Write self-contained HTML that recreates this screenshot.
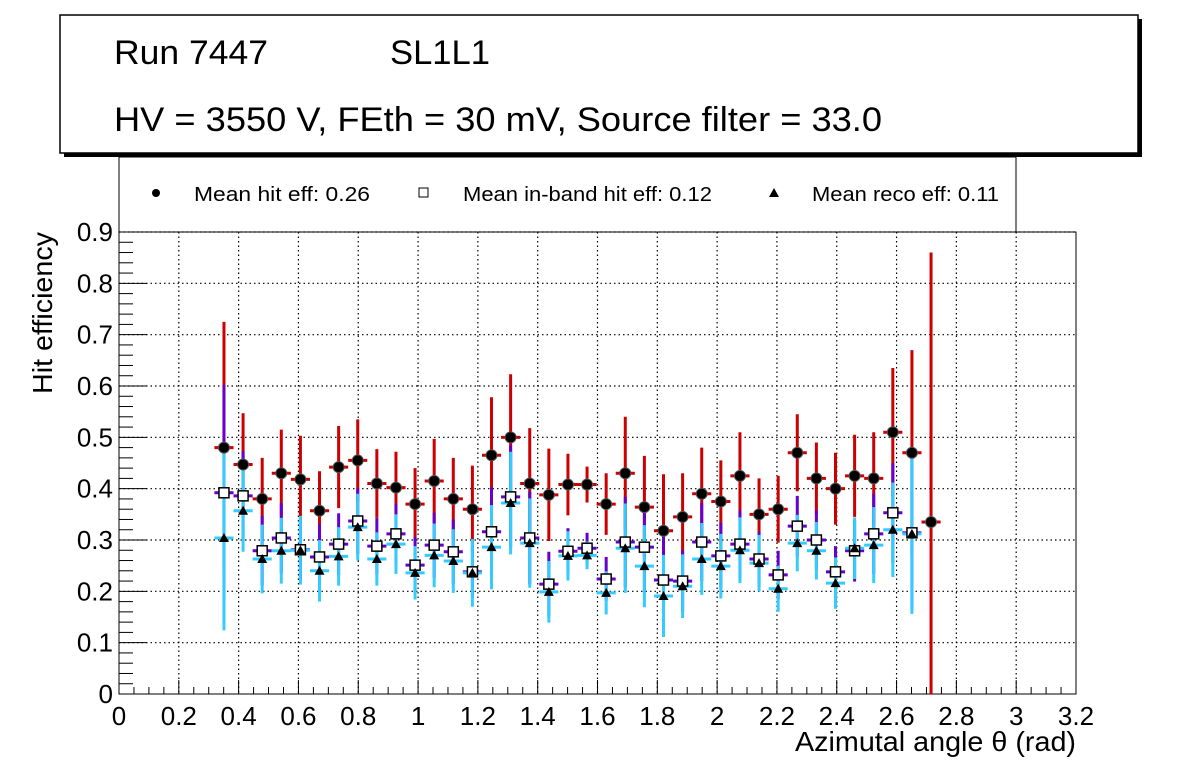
<!DOCTYPE html>
<html><head><meta charset="utf-8"><style>
html,body{margin:0;padding:0;background:#fff;}
svg{display:block;font-family:"Liberation Sans",sans-serif;}
</style></head><body>
<svg id="chart" width="1196" height="772" viewBox="0 0 1196 772" xmlns="http://www.w3.org/2000/svg">
<rect x="0" y="0" width="1196" height="772" fill="#fff"/>
<g>
<rect x="64" y="19" width="1078" height="138" fill="#000"/>
<rect x="60" y="15" width="1078" height="138" fill="#fff" stroke="#000" stroke-width="1.5"/>
<text x="114" y="64" font-size="34" textLength="154" lengthAdjust="spacingAndGlyphs">Run 7447</text>
<text x="390" y="64" font-size="34" textLength="100" lengthAdjust="spacingAndGlyphs">SL1L1</text>
<text x="114" y="131" font-size="34" textLength="768" lengthAdjust="spacingAndGlyphs">HV = 3550 V, FEth = 30 mV, Source filter = 33.0</text>
</g>
<g>
<rect x="119" y="157" width="897" height="75" fill="#fff" stroke="#000" stroke-width="1"/>
<g><circle cx="156" cy="193" r="4" fill="#000"/><text x="194" y="201" font-size="20" textLength="176" lengthAdjust="spacingAndGlyphs">Mean hit  eff: 0.26</text></g>
<g><rect x="419" y="188" width="9" height="9" fill="#fff" stroke="#000"/><text x="463" y="201" font-size="20" textLength="249" lengthAdjust="spacingAndGlyphs">Mean in-band hit eff: 0.12</text></g>
<g><polygon points="774,188 779,197 769,197" fill="#000"/><text x="812" y="201" font-size="20" textLength="187" lengthAdjust="spacingAndGlyphs">Mean reco eff: 0.11</text></g>
</g>
<g id="plot"></g>
<text transform="translate(52,394) rotate(-90)" font-size="28" textLength="162" lengthAdjust="spacingAndGlyphs">Hit efficiency</text>
<text x="795" y="751" font-size="28" textLength="281" lengthAdjust="spacingAndGlyphs">Azimutal angle θ (rad)</text>
</svg>
<script>
const hitVals=[0.48,0.447,0.38,0.43,0.418,0.357,0.442,0.455,0.41,0.402,0.37,0.415,0.38,0.36,0.465,0.5,0.41,0.388,0.408,0.408,0.37,0.43,0.364,0.318,0.345,0.39,0.375,0.425,0.35,0.36,0.47,0.42,0.40,0.425,0.42,0.51,0.47,0.335];
const hitErrs=[0.245,0.1,0.08,0.085,0.085,0.077,0.08,0.08,0.067,0.07,0.07,0.082,0.08,0.085,0.113,0.123,0.108,0.09,0.06,0.035,0.06,0.11,0.1,0.11,0.085,0.09,0.08,0.085,0.07,0.065,0.075,0.07,0.07,0.08,0.09,0.125,0.2,0.525];
const bandVals=[0.392,0.386,0.279,0.304,0.281,0.267,0.292,0.337,0.288,0.312,0.251,0.29,0.277,0.238,0.316,0.384,0.304,0.214,0.278,0.284,0.224,0.296,0.286,0.222,0.22,0.296,0.269,0.292,0.263,0.232,0.327,0.3,0.238,0.279,0.312,0.353,0.314];
const bandErrs=[0.21,0.087,0.068,0.068,0.06,0.064,0.06,0.064,0.055,0.058,0.055,0.063,0.063,0.05,0.087,0.1,0.09,0.063,0.045,0.03,0.043,0.088,0.084,0.086,0.06,0.076,0.064,0.066,0.053,0.047,0.059,0.058,0.05,0.06,0.078,0.097,0.15];
const recoVals=[0.304,0.357,0.263,0.279,0.28,0.24,0.268,0.325,0.263,0.292,0.236,0.27,0.259,0.236,0.286,0.372,0.294,0.199,0.269,0.27,0.197,0.284,0.249,0.191,0.21,0.263,0.249,0.28,0.255,0.205,0.294,0.279,0.216,0.284,0.29,0.32,0.312];
const recoErrs=[0.18,0.08,0.067,0.064,0.067,0.06,0.057,0.065,0.052,0.058,0.052,0.062,0.062,0.066,0.082,0.1,0.087,0.06,0.048,0.027,0.042,0.087,0.08,0.08,0.062,0.07,0.063,0.064,0.055,0.045,0.055,0.056,0.05,0.06,0.074,0.092,0.156];
const binStart=0.351, binStep=0.0639;
const xTicks=["0","0.2","0.4","0.6","0.8","1","1.2","1.4","1.6","1.8","2","2.2","2.4","2.6","2.8","3","3.2"];
const yTicks=["0","0.1","0.2","0.3","0.4","0.5","0.6","0.7","0.8","0.9"];

const NS="http://www.w3.org/2000/svg";
const L=119,R=1076,T=232,B=694;
const X=v=>L+(v/3.2)*(R-L);
const Y=v=>B-(v/0.9)*(B-T);
const plot=document.getElementById('plot');
function mk(tag,attrs,parent){const e=document.createElementNS(NS,tag);for(const k in attrs)e.setAttribute(k,attrs[k]);(parent||plot).appendChild(e);return e;}
const grid=mk('g',{});


xTicks.forEach((t,i)=>{const v=parseFloat(t);if(i>0&&i<xTicks.length-1)mk('line',{x1:X(v),x2:X(v),y1:T,y2:B,stroke:'#000','stroke-width':1.2,'stroke-dasharray':'1.5,3'},grid);});
yTicks.forEach((t,i)=>{const v=parseFloat(t);if(i>0)mk('line',{x1:L,x2:R,y1:Y(v),y2:Y(v),stroke:'#000','stroke-width':1.2,'stroke-dasharray':'1.5,3'},grid);});
const frame=mk('rect',{x:L,y:T,width:R-L,height:B-T,fill:'none',stroke:'#000','stroke-width':1});


const xa=mk('g',{});


xTicks.forEach((t,i)=>{const v=parseFloat(t);
 mk('line',{x1:X(v),x2:X(v),y1:B,y2:B-14,stroke:'#000'},xa);
 if(i<xTicks.length-1){for(let k=1;k<4;k++){const m=v+k*0.05;mk('line',{x1:X(m),x2:X(m),y1:B,y2:B-7,stroke:'#000'},xa);}}
 const tx=mk('text',{x:X(v),y:B+31,'font-size':26,'text-anchor':'middle'},xa);tx.textContent=t;
 
 
});
const ya=mk('g',{});


yTicks.forEach((t,i)=>{const v=parseFloat(t);
 mk('line',{x1:L,x2:L+28,y1:Y(v),y2:Y(v),stroke:'#000'},ya);
 if(i<yTicks.length-1){for(let k=1;k<5;k++){const m=v+k*0.02;mk('line',{x1:L,x2:L+14,y1:Y(m),y2:Y(m),stroke:'#000'},ya);}}
 const tx=mk('text',{x:L-6,y:Y(v)+9,'font-size':26,'text-anchor':'end'},ya);tx.textContent=t;
 
 
});
function series(vals,errs,color,name){
 const g=mk('g',{});
 
 
 vals.forEach((v,i)=>{const c=binStart+i*binStep;const lo=Math.max(0,v-errs[i]),hi=Math.min(0.9,v+errs[i]);
  mk('line',{x1:X(c),x2:X(c),y1:Y(lo),y2:Y(hi),stroke:color,'stroke-width':3},g);
  mk('line',{x1:X(c-binStep/2),x2:X(c+binStep/2),y1:Y(v),y2:Y(v),stroke:color,'stroke-width':3},g);
 });
 return g;
}
series(hitVals,hitErrs,'#cc0000','hit');
series(bandVals,bandErrs,'#6600cc','inband');
series(recoVals,recoErrs,'#33ccff','reco');
const mg=mk('g',{});


hitVals.forEach((v,i)=>{const c=X(binStart+i*binStep);const e=mk('circle',{cx:c,cy:Y(v),r:5.5,fill:'#000',stroke:'#555','stroke-width':1},mg);
 
 });
bandVals.forEach((v,i)=>{const c=X(binStart+i*binStep);const e=mk('rect',{x:c-5,y:Y(v)-5,width:10,height:10,fill:'#fff',stroke:'#000','stroke-width':1.5},mg);
 
 });
recoVals.forEach((v,i)=>{const c=X(binStart+i*binStep),y=Y(v);const e=mk('polygon',{points:`${c},${y-5} ${c+5},${y+4} ${c-5},${y+4}`,fill:'#000'},mg);
 
 });
</script>
</body></html>
